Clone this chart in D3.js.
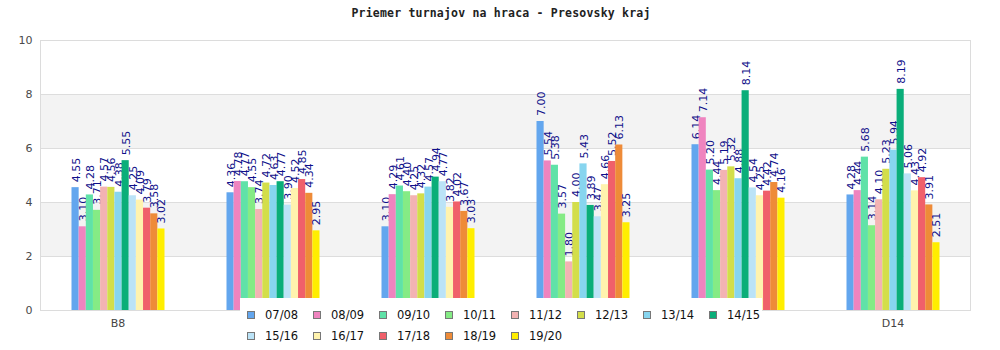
<!DOCTYPE html>
<html>
<head>
<meta charset="utf-8">
<script src="https://cdn.jsdelivr.net/npm/d3@7"></script>
<style>
  html, body { margin: 0; padding: 0; background: #fff; }
  svg { display: block; }
</style>
</head>
<body>
<svg id="chart" width="1000" height="350"></svg>
<script>
// Average number of tournaments per player, Presov region, by league and season
const categories = ["B8", "C9", "C10", "D11", "D12", "D14"];
const seasons = ["07/08", "08/09", "09/10", "10/11", "11/12", "12/13", "13/14",
                 "14/15", "15/16", "16/17", "17/18", "18/19", "19/20"];
const colors = ["#63a6ee", "#ef84bf", "#60e2a8", "#85eb85", "#f3b3b3", "#d3de4a", "#87d5ef",
                "#0aae79", "#bbe3f7", "#fff3ae", "#f0606a", "#ee8b38", "#ffee00"];
// one row per category, one value per season
const values = [
  [4.55, 3.10, 4.28, 3.71, 4.57, 4.56, 4.38, 5.55, 4.25, 4.09, 3.79, 3.58, 3.02],
  [4.36, 4.78, 4.77, 4.55, 3.74, 4.72, 4.63, 4.77, 3.90, 4.52, 4.85, 4.34, 2.95],
  [3.10, 4.29, 4.61, 4.40, 4.25, 4.32, 4.57, 4.94, 4.77, 3.82, 4.02, 3.67, 3.03],
  [7.00, 5.54, 5.38, 3.57, 1.80, 4.00, 5.43, 3.89, 3.47, 4.66, 5.52, 6.13, 3.25],
  [6.14, 7.14, 5.20, 4.44, 5.19, 5.32, 4.88, 8.14, 4.54, 4.25, 4.42, 4.74, 4.16],
  [4.28, 4.44, 5.68, 3.14, 4.10, 5.23, 5.94, 8.19, 5.06, 4.43, 4.92, 3.91, 2.51]
];
const yTicks = [0, 2, 4, 6, 8, 10];
// category labels left uncovered by the legend panel
const xTickLabels = ["B8", "D14"];
const title = "Priemer turnajov na hraca - Presovsky kraj";

const svg = d3.select("#chart");
const plot = { left: 40.5, right: 970.5, top: 40, bottom: 310 };

const y = d3.scaleLinear().domain([0, 10]).range([plot.bottom, plot.top]);
const x0 = d3.scaleBand().domain(categories).range([plot.left, plot.right]);
const x1 = d3.scaleBand().domain(seasons)
  .range([31, x0.bandwidth() - 31]);

// title
svg.append("text")
  .attr("x", 501).attr("y", 17)
  .attr("text-anchor", "middle")
  .attr("font-family", "'DejaVu Sans Mono', monospace")
  .attr("font-weight", "bold")
  .attr("font-size", 11.5)
  .attr("letter-spacing", 0.2)
  .attr("fill", "#222")
  .text(title);

// alternating background bands
const bands = svg.append("g");
for (let i = 0; i < yTicks.length - 1; i++) {
  if (i % 2 === 1) {
    bands.append("rect")
      .attr("x", plot.left).attr("width", plot.right - plot.left)
      .attr("y", y(yTicks[i + 1])).attr("height", y(yTicks[i]) - y(yTicks[i + 1]))
      .attr("fill", "#f3f3f3");
  }
}

// horizontal grid lines
svg.append("g").selectAll("line")
  .data(yTicks.slice(1, -1))
  .join("line")
  .attr("x1", plot.left).attr("x2", plot.right)
  .attr("y1", d => Math.round(y(d)) + 0.5).attr("y2", d => Math.round(y(d)) + 0.5)
  .attr("stroke", "#dddddd");

// plot frame
svg.append("rect")
  .attr("x", plot.left).attr("y", plot.top + 0.5)
  .attr("width", plot.right - plot.left).attr("height", plot.bottom - plot.top)
  .attr("fill", "none").attr("stroke", "#dcdcdc");

// y axis labels
const yAxis = d3.axisLeft(y).tickValues(yTicks).tickSize(0).tickPadding(8);
const yg = svg.append("g").attr("transform", `translate(${plot.left},0)`).call(yAxis);
yg.select(".domain").remove();
yg.selectAll("text")
  .attr("font-family", "'DejaVu Sans', sans-serif")
  .attr("font-size", 11).attr("fill", "#4a4a4a");

// x axis labels
const xAxis = d3.axisBottom(x0).tickValues(xTickLabels).tickSize(0).tickPadding(9);
const xg = svg.append("g").attr("transform", `translate(0,${plot.bottom})`).call(xAxis);
xg.select(".domain").remove();
xg.selectAll("text")
  .attr("font-family", "'DejaVu Sans', sans-serif")
  .attr("font-size", 11).attr("fill", "#444");

// bars
const groups = svg.append("g").selectAll("g")
  .data(categories)
  .join("g")
  .attr("transform", d => `translate(${x0(d)},0)`);

const cells = groups.selectAll("g")
  .data((c, ci) => seasons.map((s, si) => ({ season: s, value: values[ci][si], color: colors[si] })))
  .join("g");

cells.append("rect")
  .attr("x", d => x1(d.season))
  .attr("width", x1.bandwidth())
  .attr("y", d => y(d.value))
  .attr("height", d => y(0) - y(d.value))
  .attr("fill", d => d.color);

// value labels, rotated above each bar
cells.append("text")
  .attr("transform", d => `translate(${x1(d.season) + x1.bandwidth() / 2 + 1},${y(d.value) - 5}) rotate(-90)`)
  .attr("dominant-baseline", "central")
  .attr("font-family", "'DejaVu Sans', sans-serif")
  .attr("font-size", 11)
  .attr("fill", "#10108a")
  .text(d => d.value.toFixed(2));

// legend, drawn over the plot on a white panel
const legend = svg.append("g");
legend.append("rect")
  .attr("x", 240).attr("y", 298).attr("width", 522).attr("height", 52)
  .attr("fill", "#fff");
const perRow = 8;
const items = legend.selectAll("g.item")
  .data(seasons)
  .join("g")
  .attr("class", "item")
  .attr("transform", (d, i) => `translate(${247 + (i % perRow) * 66},${315 + Math.floor(i / perRow) * 21})`);
items.append("rect")
  .attr("x", 0.5).attr("y", -3.5).attr("width", 7).attr("height", 7)
  .attr("fill", (d, i) => colors[i])
  .attr("stroke", "#777");
items.append("text")
  .attr("x", 18).attr("y", 0)
  .attr("dominant-baseline", "central")
  .attr("font-family", "'DejaVu Sans', sans-serif")
  .attr("font-size", 11.5).attr("fill", "#111")
  .text(d => d);
</script>
</body>
</html>
